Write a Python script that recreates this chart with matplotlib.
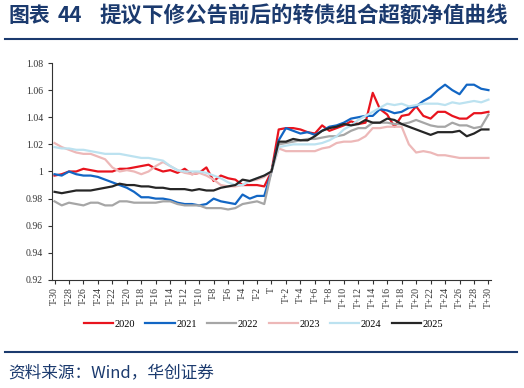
import matplotlib
matplotlib.use("Agg")
import matplotlib.pyplot as plt
from matplotlib.lines import Line2D

plt.rcParams['font.family'] = ['Liberation Serif', 'Noto Sans CJK SC', 'DejaVu Sans']

# x positions: T-30 ... T ... T+30
days = list(range(-30, 31))
tick_labels = [("T" if d == 0 else ("T%+d" % d)) for d in days]

# excess net value by year
y2020 = [0.997, 0.998, 1.000, 1.000, 1.002, 1.001, 1.000, 1.000, 1.000, 1.002,
         1.002, 1.003, 1.004, 1.005, 1.002, 1.000, 1.001, 0.999, 1.002, 0.998,
         0.999, 1.003, 0.993, 0.997, 0.995, 0.994, 0.990, 0.990, 0.990, 0.989,
         1.000,
         1.031, 1.032, 1.032, 1.031, 1.029, 1.028, 1.034, 1.030, 1.032, 1.034,
         1.037, 1.035, 1.036, 1.058, 1.046, 1.042, 1.033, 1.041, 1.042, 1.048,
         1.041, 1.039, 1.044, 1.044, 1.041, 1.039, 1.039, 1.043, 1.043, 1.044]
y2021 = [0.998, 0.997, 1.000, 0.998, 0.997, 0.997, 0.996, 0.994, 0.992, 0.990,
         0.988, 0.985, 0.981, 0.981, 0.980, 0.980, 0.979, 0.977, 0.976, 0.976,
         0.975, 0.976, 0.980, 0.978, 0.977, 0.976, 0.983, 0.980, 0.982, 0.982,
         1.000,
         1.023, 1.032, 1.030, 1.028, 1.029, 1.027, 1.030, 1.033, 1.034, 1.036,
         1.039, 1.040, 1.041, 1.041, 1.046, 1.045, 1.043, 1.044, 1.047, 1.048,
         1.052, 1.055, 1.060, 1.064, 1.060, 1.057, 1.064, 1.064, 1.061, 1.060]
y2022 = [0.978, 0.975, 0.977, 0.976, 0.975, 0.977, 0.977, 0.975, 0.975, 0.978,
         0.978, 0.977, 0.977, 0.977, 0.977, 0.978, 0.978, 0.976, 0.975, 0.975,
         0.975, 0.973, 0.973, 0.973, 0.972, 0.973, 0.976, 0.977, 0.978, 0.976,
         1.000,
         1.020, 1.021, 1.022, 1.023, 1.024, 1.024, 1.025, 1.026, 1.026, 1.027,
         1.030, 1.032, 1.032, 1.036, 1.036, 1.036, 1.035, 1.035, 1.036, 1.038,
         1.036, 1.034, 1.033, 1.033, 1.036, 1.034, 1.034, 1.032, 1.033, 1.042]
y2023 = [1.021, 1.018, 1.016, 1.014, 1.013, 1.013, 1.011, 1.009, 1.003, 1.000,
         1.001, 1.000, 0.998, 1.000, 1.004, 1.007, 1.004, 1.001, 0.999, 0.998,
         0.999, 0.997, 0.994, 0.990, 0.989, 0.989, 0.990, 0.993, 0.994, 0.996,
         1.000,
         1.017, 1.015, 1.015, 1.015, 1.015, 1.015, 1.017, 1.018, 1.021, 1.022,
         1.022, 1.023, 1.026, 1.032, 1.032, 1.033, 1.033, 1.033, 1.020, 1.014,
         1.015, 1.014, 1.012, 1.012, 1.011, 1.010, 1.010, 1.010, 1.010, 1.010]
y2024 = [1.018, 1.017, 1.017, 1.016, 1.016, 1.015, 1.014, 1.013, 1.013, 1.013,
         1.012, 1.011, 1.010, 1.010, 1.009, 1.008, 1.004, 1.001, 1.000, 1.000,
         1.000, 0.999, 0.997, 0.995, 0.992, 0.990, 0.990, 0.993, 0.995, 0.997,
         1.000,
         1.018, 1.019, 1.020, 1.020, 1.020, 1.020, 1.021, 1.023, 1.026, 1.031,
         1.034, 1.038, 1.041, 1.044, 1.047, 1.050, 1.049, 1.050, 1.048, 1.049,
         1.050, 1.050, 1.050, 1.049, 1.051, 1.050, 1.051, 1.052, 1.051, 1.053]
y2025 = [0.985, 0.984, 0.985, 0.986, 0.986, 0.986, 0.987, 0.988, 0.989, 0.991,
         0.990, 0.990, 0.989, 0.989, 0.988, 0.988, 0.987, 0.987, 0.987, 0.986,
         0.987, 0.986, 0.986, 0.988, 0.989, 0.990, 0.994, 0.993, 0.995, 0.997,
         1.000,
         1.022, 1.022, 1.024, 1.023, 1.023, 1.026, 1.030, 1.032, 1.033, 1.035,
         1.034, 1.035, 1.038, 1.036, 1.036, 1.039, 1.038, 1.035, 1.033, 1.031,
         1.029, 1.027, 1.029, 1.029, 1.029, 1.030, 1.026, 1.028, 1.031, 1.031]

series = [("2020", y2020, "#E8141E"), ("2021", y2021, "#1266C4"),
          ("2022", y2022, "#A6A6A6"), ("2023", y2023, "#EDB8B8"),
          ("2024", y2024, "#BCE2F0"), ("2025", y2025, "#262626")]

fig = plt.figure(figsize=(5.24, 3.88), dpi=100)
ax = fig.add_axes([0.0992, 0.2784, 0.8378, 0.5592])

xs = list(range(len(days)))
for name, ys, col in series:
    ax.plot(xs, ys, color=col, lw=1.6, label=name)

ax.set_xlim(-0.35, len(days) - 1 + 0.35)
ax.set_ylim(0.92, 1.08)
ax.set_yticks([0.92, 0.94, 0.96, 0.98, 1.0, 1.02, 1.04, 1.06, 1.08])
ax.set_yticklabels(["0.92", "0.94", "0.96", "0.98", "1", "1.02", "1.04", "1.06", "1.08"])
ax.set_xticks(xs[::2])
ax.set_xticklabels(tick_labels[::2], rotation=90)
ax.tick_params(axis='both', labelsize=7, length=3, width=0.8, color='#333333',
               labelcolor='#333333')
ax.tick_params(axis='x', pad=2)
for s in ['top', 'right']:
    ax.spines[s].set_visible(False)
for s in ['left', 'bottom']:
    ax.spines[s].set_color('#333333')
    ax.spines[s].set_linewidth(0.8)

handles = [Line2D([0], [0], color=c, lw=1.6) for _, _, c in series]
fig.legend(handles, [n for n, _, _ in series], loc='center', ncol=6,
           bbox_to_anchor=(0.503, 1 - 324 / 388), frameon=False, fontsize=7.5,
           handlelength=2.8, columnspacing=1.0, handletextpad=0.15)

navy = '#1B3A6E'
cjk = ['Noto Sans CJK SC', 'DejaVu Sans']
fig.text(8 / 524, 1 - 16 / 388, "图表", family=cjk, fontsize=15, fontweight='bold',
         color=navy, va='center', ha='left')
fig.text(58 / 524, 1 - 16 / 388, "44", family=cjk, fontsize=15, fontweight='bold',
         color=navy, va='center', ha='left')
fig.text(99 / 524, 1 - 16 / 388, "提议下修公告前后的转债组合超额净值曲线",
         family=cjk, fontsize=15.5, fontweight='bold',
         color=navy, va='center', ha='left')
fig.add_artist(Line2D([5 / 524, 517 / 524], [1 - 39 / 388, 1 - 39 / 388],
                      color=navy, lw=1.5))
fig.add_artist(Line2D([5 / 524, 517 / 524], [1 - 352 / 388, 1 - 352 / 388],
                      color=navy, lw=1.5))
fig.text(8 / 524, 1 - 373 / 388, "资料来源：Wind，华创证券",
         family=cjk, fontsize=12, color=navy,
         va='center', ha='left', style='italic')

fig.savefig("out.png", dpi=100)
